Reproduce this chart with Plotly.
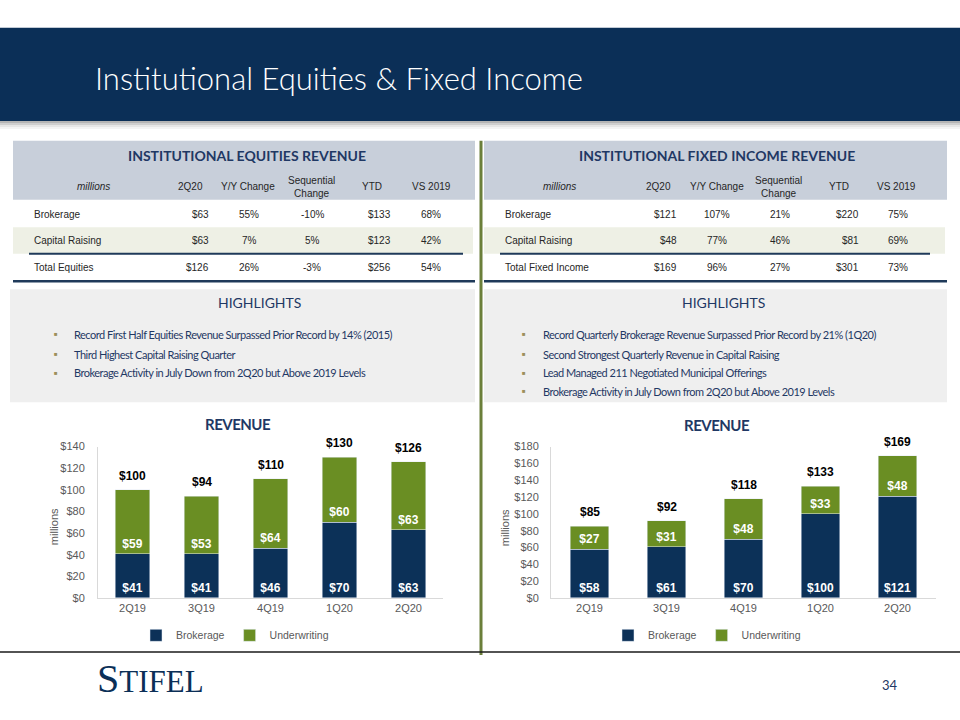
import plotly.graph_objects as go

# ---------------- data ----------------
quarters = ["2Q19", "3Q19", "4Q19", "1Q20", "2Q20"]
eq_brokerage = [41, 41, 46, 70, 63]
eq_underwriting = [59, 53, 64, 60, 63]
eq_total = [100, 94, 110, 130, 126]
fi_brokerage = [58, 61, 70, 100, 121]
fi_underwriting = [27, 31, 48, 33, 48]
fi_total = [85, 92, 118, 133, 169]

table_cols = ["2Q20", "Y/Y Change", "Sequential<br>Change", "YTD", "VS 2019"]
eq_rows = ["Brokerage", "Capital Raising", "Total Equities"]
eq_2q20 = ["$63", "$63", "$126"]
eq_yy = ["55%", "7%", "26%"]
eq_seq = ["-10%", "5%", "-3%"]
eq_ytd = ["$133", "$123", "$256"]
eq_vs = ["68%", "42%", "54%"]
fi_rows = ["Brokerage", "Capital Raising", "Total Fixed Income"]
fi_2q20 = ["$121", "$48", "$169"]
fi_yy = ["107%", "77%", "96%"]
fi_seq = ["21%", "46%", "27%"]
fi_ytd = ["$220", "$81", "$301"]
fi_vs = ["75%", "69%", "73%"]

eq_highlights = [
    "Record First Half Equities Revenue Surpassed Prior Record by 14% (2015)",
    "Third Highest Capital Raising Quarter",
    "Brokerage Activity in July Down from 2Q20 but Above 2019 Levels",
]
fi_highlights = [
    "Record Quarterly Brokerage Revenue Surpassed Prior Record by 21% (1Q20)",
    "Second Strongest Quarterly Revenue in Capital Raising",
    "Lead Managed 211 Negotiated Municipal Offerings",
    "Brokerage Activity in July Down from 2Q20 but Above 2019 Levels",
]

# ---------------- style ----------------
NAVY = "#0C3158"
GREEN = "#6A8E23"
HEADER = "#0B2F57"
BAND = "#C8CFDA"
BEIGE = "#EEF0E5"
PANEL = "#EFEFEF"
TEXTNAVY = "#1F3864"
GRAY = "#595959"
COND = "Lato, sans-serif"
SANS = "Liberation Sans, Arial, sans-serif"


def X(px):
    return px / 960


def Y(py):
    return 1 - py / 720


def tight(t, ls):
    return f"<span style='letter-spacing:{ls}px'>{t}</span>"


fig = go.Figure()

# ---------------- bar charts ----------------
def add_chart(brk, und, xa, ya, leg):
    fig.add_trace(go.Bar(
        x=quarters, y=brk, name="Brokerage", marker_color=NAVY,
        text=[f"<b>${v}</b>" for v in brk], textposition="inside",
        insidetextanchor="start", textangle=0,
        textfont=dict(color="white", size=12, family=SANS),
        xaxis=xa, yaxis=ya, legend=leg, hoverinfo="skip"))
    fig.add_trace(go.Bar(
        x=quarters, y=und, name="Underwriting", marker_color=GREEN,
        text=[f"<b>${v}</b>" for v in und], textposition="inside",
        insidetextanchor="start", textangle=0,
        textfont=dict(color="white", size=12, family=SANS),
        xaxis=xa, yaxis=ya, legend=leg, hoverinfo="skip"))


add_chart(eq_brokerage, eq_underwriting, "x", "y", "legend")
add_chart(fi_brokerage, fi_underwriting, "x2", "y2", "legend2")

annotations = []
for q, t in zip(quarters, eq_total):
    annotations.append(dict(x=q, y=t, xref="x", yref="y", text=f"<b>${t}</b>",
                            showarrow=False, yanchor="bottom", yshift=5,
                            font=dict(size=12, color="#000000", family=SANS)))
for q, t in zip(quarters, fi_total):
    annotations.append(dict(x=q, y=t, xref="x2", yref="y2", text=f"<b>${t}</b>",
                            showarrow=False, yanchor="bottom", yshift=5,
                            font=dict(size=12, color="#000000", family=SANS)))

axis_common = dict(showgrid=False, zeroline=False, showline=True,
                   linecolor="#D9D9D9", linewidth=1, ticks="",
                   tickfont=dict(size=11, color=GRAY, family=SANS))
ydom = [Y(602), Y(448)]
fig.update_layout(
    xaxis=dict(domain=[X(98), X(443)], anchor="y", **axis_common),
    yaxis=dict(domain=ydom, anchor="x", range=[0, 140], dtick=20,
               tickprefix="$", ticklabelstandoff=10, **axis_common),
    xaxis2=dict(domain=[X(551), X(936)], anchor="y2", **axis_common),
    yaxis2=dict(domain=ydom, anchor="x2", range=[0, 180], dtick=20,
                tickprefix="$", ticklabelstandoff=9, **axis_common),
)

# ---------------- shapes ----------------
shapes = []


def rect(x0, y0, x1, y1, color, layer="below"):
    shapes.append(dict(type="rect", xref="paper", yref="paper",
                       x0=X(x0), x1=X(x1), y0=Y(y1), y1=Y(y0),
                       fillcolor=color, line=dict(width=0), layer=layer))


def line(x0, y0, x1, y1, color, width):
    shapes.append(dict(type="line", xref="paper", yref="paper",
                       x0=X(x0), x1=X(x1), y0=Y(y0), y1=Y(y1),
                       line=dict(color=color, width=width), layer="above"))


# header band + shadow
rect(0, 22, 960, 117, HEADER)
rect(0, 117, 960, 119, "#B5B5B5")
rect(0, 119, 960, 121, "#CFCFCF")
rect(0, 121, 960, 123, "#E6E6E6")
rect(0, 123, 960, 125, "#F4F4F4")

# tables
for (x0, x1, lx0, lx1) in [(13, 475, 29, 463), (484, 947, 500, 930)]:
    rect(x0, 137, x1, 197, BAND)
    rect(x0, 225, x1 - 2, 252, BEIGE)
    line(lx0, 252, lx1, 252, "#1F3A5A", 2)
    line(x0, 280, x1, 280, "#1F3A5A", 2.5)
# highlights panels
rect(10, 288, 475, 403, PANEL)
rect(484, 288, 947, 403, PANEL)
# divider + bottom rule
line(481, 137, 481, 660, "#6B7F3A", 3)
line(0, 657, 960, 657, "#1A1A1A", 1.5)


def ann(x, y, text, size, color, family=SANS, xanchor="center", yanchor="middle",
        weight=None, angle=0):
    f = dict(size=size, color=color, family=family)
    if weight is not None:
        f["weight"] = weight
    annotations.append(dict(x=X(x), y=Y(y), xref="paper", yref="paper", text=text,
                            showarrow=False, xanchor=xanchor, yanchor=yanchor,
                            textangle=angle, font=f))


# title
ann(93, 73, "Institutional Equities &amp; Fixed Income", 31, "white", COND,
    xanchor="left", weight=300)

# tables content
def table(title, tx, label_x, millions_x, hdr_x, val_x, val_anchor, rows, cols):
    ann(tx, 152, title, 14, TEXTNAVY, COND, weight=700)
    ann(millions_x, 184, "<i>millions</i>", 10, "#262626")
    for hx, h in zip(hdr_x, table_cols):
        ann(hx, 184, h, 10, "#262626")
    row_y = [212, 238, 266]
    for ri, (ry, r) in enumerate(zip(row_y, rows)):
        ann(label_x, ry, r, 10, "#262626", xanchor="left")
        for vx, va, col in zip(val_x, val_anchor, cols):
            ann(vx, ry, col[ri], 10, "#262626", xanchor=va)


table("INSTITUTIONAL EQUITIES REVENUE", 247, 32, 93,
      [190, 248, 311, 372, 431], [211, 249, 312, 393, 431],
      ["right", "center", "center", "right", "center"], eq_rows,
      [eq_2q20, eq_yy, eq_seq, eq_ytd, eq_vs])
table("INSTITUTIONAL FIXED INCOME REVENUE", 717, 503, 559,
      [658, 717, 778, 839, 896], [679, 717, 780, 861, 898],
      ["right", "center", "center", "right", "center"], fi_rows,
      [fi_2q20, fi_yy, fi_seq, fi_ytd, fi_vs])

# highlights
ann(259, 302, "HIGHLIGHTS", 14, TEXTNAVY, COND)
ann(723, 302, "HIGHLIGHTS", 14, TEXTNAVY, COND)
hl_y = [334, 354, 373, 392]
for yy, t in zip(hl_y, eq_highlights):
    ann(56, yy, "■", 6, "#9C8F5C")
    ann(72, yy, tight(t, -0.5), 11, TEXTNAVY, COND, xanchor="left")
for yy, t in zip(hl_y, fi_highlights):
    ann(524, yy, "■", 6, "#9C8F5C")
    ann(541, yy, tight(t, -0.5), 11, TEXTNAVY, COND, xanchor="left")

# chart titles & axis titles
ann(238, 425, tight("REVENUE", -0.5), 15, TEXTNAVY, COND, weight=700)
ann(717, 426, tight("REVENUE", -0.5), 15, TEXTNAVY, COND, weight=700)
ann(54, 530, "millions", 11, GRAY, SANS, angle=-90)
ann(505, 530, "millions", 11, GRAY, SANS, angle=-90)

# footer
ann(95, 684, "<span style='font-size:40px'>S</span>TIFEL", 31, HEADER,
    "Liberation Serif, serif", xanchor="left")
ann(890, 690, "34", 13, TEXTNAVY, COND)

legend_common = dict(orientation="h", xanchor="center", yanchor="middle",
                     y=Y(640), font=dict(size=10.5, color=GRAY, family=SANS),
                     itemwidth=30, bgcolor="rgba(0,0,0,0)", traceorder="normal")
fig.update_layout(
    width=960, height=720, margin=dict(l=0, r=0, t=0, b=0),
    paper_bgcolor="white", plot_bgcolor="rgba(0,0,0,0)",
    barmode="stack", bargap=0.5, showlegend=True,
    legend=dict(x=X(235), **legend_common),
    legend2=dict(x=X(707), **legend_common),
    shapes=shapes, annotations=annotations,
)

fig.write_html(
    "out.html",
    config={"displayModeBar": False},
    post_script="document.body.style.margin='0';document.body.style.overflow='hidden';",
)
